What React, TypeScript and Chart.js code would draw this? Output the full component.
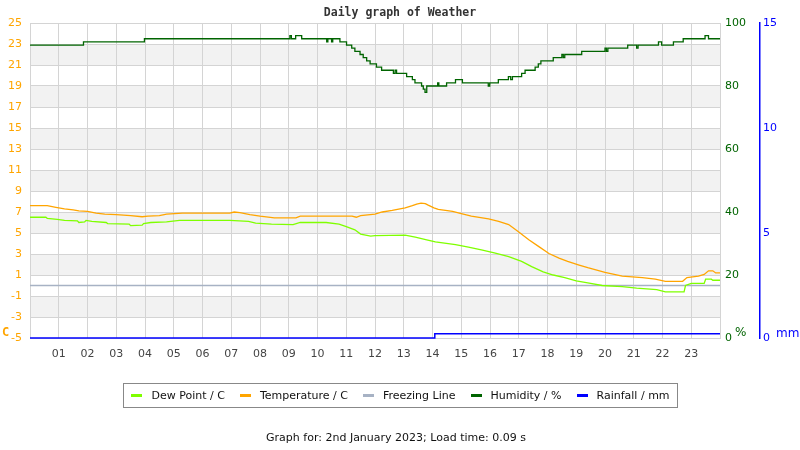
import React, { useEffect, useRef } from "react";
import { Chart, registerables } from "chart.js";

Chart.register(...registerables);

// ---- data ----
const hourLabels = ["01","02","03","04","05","06","07","08","09","10","11","12","13","14","15","16","17","18","19","20","21","22","23"];

const tempHours = [0, 0.6, 0.9, 1.2, 1.5, 1.7, 2.0, 2.3, 2.6, 3.0, 3.5, 3.9, 4.1, 4.5, 4.75, 5.3, 6.0, 6.95, 7.1, 7.3, 7.65, 8.0, 8.5, 9.25, 9.4, 10.4, 11.2, 11.35, 11.5, 12.0, 12.25, 12.6, 13.05, 13.3, 13.45, 13.6, 13.75, 13.85, 14.05, 14.2, 14.7, 15.0, 15.35, 15.95, 16.3, 16.65, 17.0, 17.35, 17.7, 18.05, 18.4, 18.7, 19.1, 19.4, 20.0, 20.6, 21.3, 21.75, 22.1, 22.7, 22.85, 23.25, 23.45, 23.6, 23.75, 23.85, 24];
const tempValues = [7.6, 7.6, 7.45, 7.3, 7.2, 7.1, 7.05, 6.9, 6.8, 6.75, 6.65, 6.55, 6.6, 6.65, 6.8, 6.9, 6.9, 6.9, 7.0, 6.95, 6.75, 6.6, 6.45, 6.45, 6.6, 6.6, 6.6, 6.5, 6.65, 6.8, 7.0, 7.15, 7.4, 7.6, 7.75, 7.85, 7.8, 7.65, 7.4, 7.25, 7.05, 6.85, 6.6, 6.35, 6.1, 5.8, 5.1, 4.35, 3.7, 3.05, 2.6, 2.3, 1.95, 1.7, 1.25, 0.9, 0.75, 0.6, 0.4, 0.4, 0.75, 0.9, 1.05, 1.4, 1.4, 1.2, 1.2];

const dewHours = [0, 0.55, 0.6, 0.95, 1.2, 1.65, 1.7, 1.9, 1.95, 2.15, 2.65, 2.7, 3.45, 3.5, 3.9, 3.95, 4.2, 4.75, 5.2, 6.95, 7.6, 7.85, 8.4, 9.15, 9.4, 10.3, 10.75, 11.0, 11.3, 11.5, 11.85, 12.0, 13.05, 13.4, 13.8, 14.1, 14.8, 15.25, 15.7, 16.15, 16.65, 17.1, 17.45, 17.85, 18.2, 18.6, 19.0, 19.5, 19.9, 20.6, 21.1, 21.8, 22.1, 22.75, 22.8, 23.0, 23.45, 23.5, 23.7, 23.75, 24];
const dewValues = [6.5, 6.5, 6.4, 6.3, 6.2, 6.15, 6.0, 6.05, 6.2, 6.1, 6.0, 5.9, 5.85, 5.7, 5.75, 5.9, 6.0, 6.05, 6.2, 6.2, 6.1, 5.95, 5.85, 5.8, 6.0, 6.0, 5.85, 5.6, 5.3, 4.9, 4.7, 4.75, 4.8, 4.6, 4.35, 4.15, 3.9, 3.65, 3.4, 3.1, 2.75, 2.3, 1.8, 1.3, 1.0, 0.75, 0.45, 0.2, 0.0, -0.1, -0.25, -0.4, -0.6, -0.6, 0.0, 0.2, 0.2, 0.6, 0.6, 0.5, 0.5];

const humHours = [0, 1.86, 3.98, 9.04, 9.09, 9.24, 9.45, 10.32, 10.36, 10.49, 10.53, 10.78, 11.01, 11.19, 11.3, 11.48, 11.59, 11.71, 11.83, 12.05, 12.23, 12.64, 12.7, 12.75, 13.1, 13.3, 13.39, 13.62, 13.68, 13.74, 13.8, 14.18, 14.22, 14.49, 14.8, 15.04, 15.94, 15.99, 16.29, 16.64, 16.72, 16.78, 17.1, 17.22, 17.57, 17.68, 17.77, 18.2, 18.5, 18.55, 18.6, 19.19, 20.0, 20.05, 20.1, 20.79, 21.1, 21.15, 21.86, 21.97, 22.38, 22.72, 23.48, 23.6, 24];
const humValues = [93, 94, 95, 96, 95, 96, 95, 94, 95, 94, 95, 94, 93, 92, 91, 90, 89, 88, 87, 86, 85, 84, 85, 84, 83, 82, 81, 80, 79, 78, 80, 81, 80, 81, 82, 81, 80, 81, 82, 83, 82, 83, 84, 85, 86, 87, 88, 89, 90, 89, 90, 91, 92, 91, 92, 93, 92, 93, 94, 93, 94, 95, 96, 95, 95];

const rainHours = [0, 14.08, 24];
const rainValues = [0, 0.2, 0.2];

const freezeHours = [0, 24];
const freezeValues = [0, 0];

const grayBandStarts = [-3, 1, 5, 9, 13, 17, 21];

const toPts = (xs: number[], ys: number[]) => xs.map((x, i) => ({ x, y: ys[i] }));

const GRID = "#D4D4D4";
const FREEZE = "#A7B2C4";

const decorPlugin = {
  id: "decor",
  beforeDraw(chart: any) {
    const { ctx, chartArea: ca, scales } = chart;
    const y = scales.y;
    ctx.save();
    ctx.fillStyle = "#F2F2F2";
    for (const lo of grayBandStarts) {
      const top = y.getPixelForValue(lo + 2);
      const bot = y.getPixelForValue(lo);
      ctx.fillRect(ca.left, top, ca.right - ca.left, bot - top);
    }
    ctx.restore();
  },
  afterDraw(chart: any) {
    const { ctx } = chart;
    ctx.save();
    ctx.textBaseline = "middle";
    ctx.textAlign = "center";
    ctx.fillStyle = "#333";
    ctx.font = "bold 11.5px 'DejaVu Sans Mono'";
    ctx.fillText("Daily graph of Weather", 400, 13);
    ctx.textAlign = "left";
    ctx.fillStyle = "#FFA500";
    ctx.font = "bold 12px 'DejaVu Sans Mono'";
    ctx.fillText("C", 2, 333);
    ctx.fillStyle = "#006400";
    ctx.font = "12px 'DejaVu Sans'";
    ctx.fillText("%", 735, 333);
    ctx.fillStyle = "#0000FF";
    ctx.fillText("mm", 776, 334);
    ctx.restore();
  },
};

const legendItems = [
  { label: "Dew Point / C", color: "#7FFF00" },
  { label: "Temperature / C", color: "#FFA500" },
  { label: "Freezing Line", color: FREEZE },
  { label: "Humidity / %", color: "#006400" },
  { label: "Rainfall / mm", color: "#0000FF" },
];

export default function App() {
  const ref = useRef<HTMLCanvasElement | null>(null);

  useEffect(() => {
    if (!ref.current) return;
    const tickFont = { family: "'DejaVu Sans'", size: 11 };
    const chart = new Chart(ref.current, {
      type: "line",
      data: {
        datasets: [
          { label: "Dew Point / C", data: toPts(dewHours, dewValues), borderColor: "#7FFF00", borderWidth: 1.3, pointRadius: 0, yAxisID: "y", clip: false as any },
          { label: "Temperature / C", data: toPts(tempHours, tempValues), borderColor: "#FFA500", borderWidth: 1.3, pointRadius: 0, yAxisID: "y", clip: false as any },
          { label: "Freezing Line", data: toPts(freezeHours, freezeValues), borderColor: FREEZE, borderWidth: 1.3, pointRadius: 0, yAxisID: "y" },
          { label: "Humidity / %", data: toPts(humHours, humValues), borderColor: "#006400", borderWidth: 1.3, pointRadius: 0, stepped: "before", yAxisID: "hum" },
          { label: "Rainfall / mm", data: toPts(rainHours, rainValues), borderColor: "#0000FF", borderWidth: 1.5, pointRadius: 0, stepped: "before", yAxisID: "rain", clip: false as any },
        ],
      },
      options: {
        responsive: false,
        animation: false,
        events: [],
        layout: { padding: { top: 23, left: 0, right: 0, bottom: 0 } },
        plugins: { legend: { display: false }, tooltip: { enabled: false }, title: { display: false } },
        scales: {
          x: {
            type: "linear",
            min: 0,
            max: 24,
            afterFit: (s: any) => { s.height = 112; },
            grid: { color: GRID, drawTicks: false },
            border: { display: true, color: GRID },
            ticks: {
              stepSize: 1,
              autoSkip: false,
              maxRotation: 0,
              padding: 10,
              color: "#444",
              font: tickFont,
              callback: (v: any) => hourLabels[Number(v) - 1] ?? "",
            },
          },
          y: {
            position: "left",
            min: -5,
            max: 25,
            afterFit: (s: any) => { s.width = 30; },
            grid: { color: GRID, drawTicks: false },
            border: { display: true, color: GRID },
            ticks: { stepSize: 2, padding: 8, color: "#FFA500", font: tickFont },
          },
          hum: {
            position: "right",
            weight: 0,
            min: 0,
            max: 100,
            afterFit: (s: any) => { s.width = 40; },
            grid: { drawOnChartArea: false, drawTicks: false },
            border: { display: false },
            ticks: { stepSize: 20, padding: 5, color: "#006400", font: tickFont },
          },
          rain: {
            position: "right",
            weight: 1,
            min: 0,
            max: 15,
            afterFit: (s: any) => { s.width = 40; },
            grid: { drawOnChartArea: false, drawTicks: false },
            border: { display: true, color: "#0000FF", width: 1.5 },
            ticks: { stepSize: 5, padding: 3, color: "#0000FF", font: tickFont },
          },
        },
      } as any,
      plugins: [decorPlugin],
    });
    return () => chart.destroy();
  }, []);

  return (
    <div style={{ position: "absolute", left: 0, top: 0, width: 800, height: 450, background: "#fff", fontFamily: "'DejaVu Sans'" }}>
      <canvas ref={ref} width={800} height={450} style={{ position: "absolute", left: 0, top: 0, width: 800, height: 450 }} />
      <div
        style={{
          position: "absolute",
          left: 123,
          top: 383,
          width: 555,
          height: 25,
          boxSizing: "border-box",
          border: "1px solid #888",
          display: "flex",
          alignItems: "center",
          justifyContent: "center",
          fontSize: 11,
          color: "#111",
          whiteSpace: "nowrap",
        }}
      >
        {legendItems.map((it, i) => (
          <div key={it.label} style={{ display: "flex", alignItems: "center", marginRight: i < legendItems.length - 1 ? 15 : 0 }}>
            <span style={{ display: "inline-block", width: 11, height: 3, background: it.color, marginRight: 9 }} />
            <span>{it.label}</span>
          </div>
        ))}
      </div>
      <div style={{ position: "absolute", left: 0, top: 431, width: 792, textAlign: "center", fontSize: 11, lineHeight: "14px", color: "#111" }}>
        Graph for: 2nd January 2023; Load time: 0.09 s
      </div>
    </div>
  );
}
